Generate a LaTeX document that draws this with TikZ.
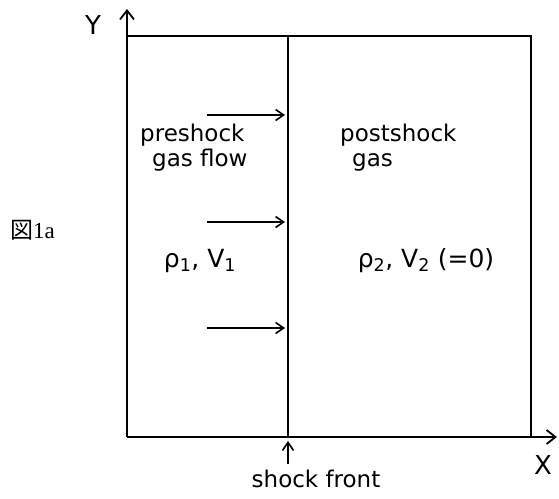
\documentclass[tikz,border=0pt]{standalone}
\usepackage{fontspec}
\setmainfont{DejaVu Sans}
\newfontfamily\jpfont{Noto Sans CJK JP}
\newfontfamily\capfont{Liberation Serif}
\usetikzlibrary{arrows.meta,positioning}
\tikzstyle{axis} = [line width=2.2pt, -{Straight Barb[length=9pt,width=14pt,line width=1.8pt]}]
\tikzstyle{wall} = [line width=2.2pt]
\tikzstyle{flow} = [line width=1.7pt, -{Straight Barb[length=8pt,width=11pt,line width=1.6pt]}]
\tikzstyle{gaslabel} = [font=\fontsize{23}{25}\selectfont, align=left, inner sep=0pt]
\tikzstyle{statelabel} = [font=\fontsize{25}{28}\selectfont, inner sep=0pt]
\tikzstyle{axislabel} = [font=\fontsize{26}{30}\selectfont, inner sep=0pt]

\begin{document}
\begin{tikzpicture}[x=1pt, y=-1pt]
\useasboundingbox (0,0) rectangle (559,498);

% Axes
\coordinate (origin) at (127,437);
\coordinate (ytip) at (127,9);
\coordinate (xtip) at (557,437);
\draw[axis] (origin) -- (ytip);
\draw[axis] (origin) -- (xtip);
\node[axislabel] (ylab) at (93,25) {Y};
\node[axislabel] (xlab) at (543,465) {X};

% Box
\coordinate (boxtl) at (127,36);
\coordinate (boxtr) at (531,36);
\coordinate (boxbr) at (531,437);
\draw[wall] (boxtl) -- (boxtr) -- (boxbr);

% Shock front
\coordinate (shocktop) at (288,36);
\coordinate (shockbot) at (288,437);
\draw[wall] (shocktop) -- (shockbot);
\coordinate (marktail) at (288,464);
\coordinate (markhead) at (288,441);
\draw[flow] (marktail) -- (markhead);
\node[gaslabel, anchor=base] (shocklab) at (316,487) {shock front};

% Preshock gas flow
\coordinate (flow1s) at (207,115);
\coordinate (flow1e) at (285,115);
\coordinate (flow2s) at (207,222);
\coordinate (flow2e) at (285,222);
\coordinate (flow3s) at (207,328);
\coordinate (flow3e) at (285,328);
\draw[flow] (flow1s) -- (flow1e);
\draw[flow] (flow2s) -- (flow2e);
\draw[flow] (flow3s) -- (flow3e);

\node[gaslabel, anchor=north west] (prelab) at (140,124) {preshock\\\hspace*{12pt}gas flow};
\node[statelabel, anchor=base] (prestate) at (200,267) {ρ\textsubscript{1}, V\textsubscript{1}};

% Postshock gas
\node[gaslabel, anchor=north west] (postlab) at (340,124) {postshock\\\hspace*{12pt}gas};
\node[statelabel, anchor=base] (poststate) at (426,267) {ρ\textsubscript{2}, V\textsubscript{2} (=0)};

% Figure tag
\node[font=\fontsize{23}{26}\selectfont, anchor=west, inner sep=0pt] (figtag) at (10,230) {{\jpfont 図}{\capfont 1a}};

\end{tikzpicture}
\end{document}
